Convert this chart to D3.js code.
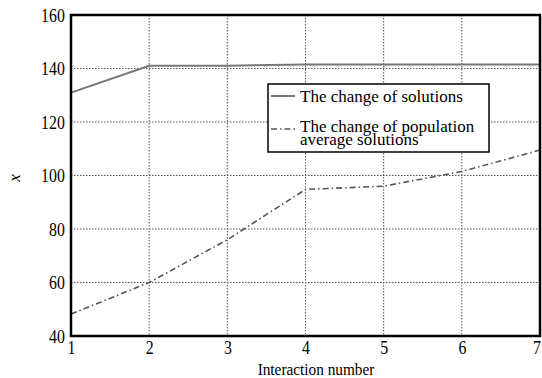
<!DOCTYPE html>
<html>
<head>
<meta charset="utf-8">
<script src="https://cdn.jsdelivr.net/npm/d3@7"></script>
<style>
  html, body { margin: 0; padding: 0; background: #fff; }
  svg text { font-family: "Liberation Serif", "Times New Roman", Times, serif; }
</style>
</head>
<body>
<svg id="chart" width="542" height="378"></svg>
<script>
// Iteration indices and the two tracked quantities
const iterations = [1, 2, 3, 4, 5, 6, 7];
const bestSolution = [131, 141, 141, 141.5, 141.5, 141.5, 141.5];
const populationAverage = [48.2, 60, 76, 94.8, 96, 101.5, 109.5];
const xTicks = [1, 2, 3, 4, 5, 6, 7];
const yTicks = [40, 60, 80, 100, 120, 140, 160];
const legendLabels = [["The change of solutions"], ["The change of population", "average solutions"]];

const SERIF = "'Liberation Serif', 'Times New Roman', Times, serif";
const NARROW = 0.88; // horizontal squeeze of the tick numerals
const svg = d3.select("#chart");
const m = { left: 71, right: 540, top: 15, bottom: 336 };

const x = d3.scaleLinear().domain([1, 7]).range([m.left, m.right]);
const y = d3.scaleLinear().domain([40, 160]).range([m.bottom, m.top]);

// Dotted grid
const grid = svg.append("g");
grid.selectAll("line.v").data(xTicks.slice(1, -1)).join("line")
  .attr("x1", d => x(d)).attr("x2", d => x(d))
  .attr("y1", m.top).attr("y2", m.bottom)
  .attr("stroke", "#555").attr("stroke-width", 1).attr("stroke-dasharray", "1.5,1.5");
grid.selectAll("line.h").data(yTicks.slice(1, -1)).join("line")
  .attr("y1", d => y(d)).attr("y2", d => y(d))
  .attr("x1", m.left).attr("x2", m.right)
  .attr("stroke", "#555").attr("stroke-width", 1).attr("stroke-dasharray", "1.5,1.5");

// Axes (labels only, the frame is drawn separately)
const xAxis = svg.append("g").attr("transform", `translate(0,${m.bottom})`)
  .call(d3.axisBottom(x).tickValues(xTicks).tickFormat(d3.format("d")).tickSize(0).tickPadding(5));
const yAxis = svg.append("g").attr("transform", `translate(${m.left},0)`)
  .call(d3.axisLeft(y).tickValues(yTicks).tickFormat(d3.format("d")).tickSize(0).tickPadding(7));
[xAxis, yAxis].forEach(a => {
  a.attr("font-family", SERIF);
  a.select(".domain").remove();
  a.selectAll("text").style("font-family", SERIF).attr("font-size", 18).attr("fill", "#000");
});
yAxis.selectAll("text").attr("dy", "0.35em").attr("transform", `scale(${NARROW},1)`);
xAxis.selectAll("text").attr("transform", `scale(${NARROW},1)`);
xAxis.selectAll("text").filter(d => d === 7).attr("dx", -4);

// Series lines
const line = d3.line().x((d, i) => x(iterations[i])).y(d => y(d));
svg.append("path").datum(bestSolution).attr("d", line)
  .attr("fill", "none").attr("stroke", "#777").attr("stroke-width", 2);
svg.append("path").datum(populationAverage).attr("d", line)
  .attr("fill", "none").attr("stroke", "#555").attr("stroke-width", 1.6)
  .attr("stroke-dasharray", "6,3,1.5,3");

// Frame
svg.append("rect").attr("x", m.left).attr("y", m.top)
  .attr("width", m.right - m.left).attr("height", m.bottom - m.top)
  .attr("fill", "none").attr("stroke", "#000").attr("stroke-width", 2.5);

// Axis titles
svg.append("text").attr("transform", "translate(316,375) scale(0.9,1)")
  .attr("text-anchor", "middle").attr("font-size", 17).style("font-family", SERIF)
  .text("Interaction number");
svg.append("text").attr("transform", "translate(20,178) rotate(-90)")
  .attr("text-anchor", "middle").attr("font-size", 17).attr("font-style", "italic")
  .style("font-family", SERIF).text("x");

// Legend
const lg = svg.append("g");
lg.append("rect").attr("x", 268).attr("y", 84).attr("width", 221).attr("height", 68)
  .attr("fill", "#fff").attr("stroke", "#000").attr("stroke-width", 1.5);
lg.append("line").attr("x1", 271).attr("x2", 295).attr("y1", 96).attr("y2", 96)
  .attr("stroke", "#777").attr("stroke-width", 2);
lg.append("line").attr("x1", 271).attr("x2", 295).attr("y1", 129).attr("y2", 129)
  .attr("stroke", "#555").attr("stroke-width", 1.6).attr("stroke-dasharray", "6,3,1.5,3");
const lt = lg.append("text").attr("font-size", 17).attr("fill", "#000").style("font-family", SERIF);
lt.append("tspan").attr("x", 300).attr("y", 102).text(legendLabels[0][0]);
lt.append("tspan").attr("x", 300).attr("y", 132).text(legendLabels[1][0]);
lt.append("tspan").attr("x", 300).attr("y", 145).text(legendLabels[1][1]);
</script>
</body>
</html>
